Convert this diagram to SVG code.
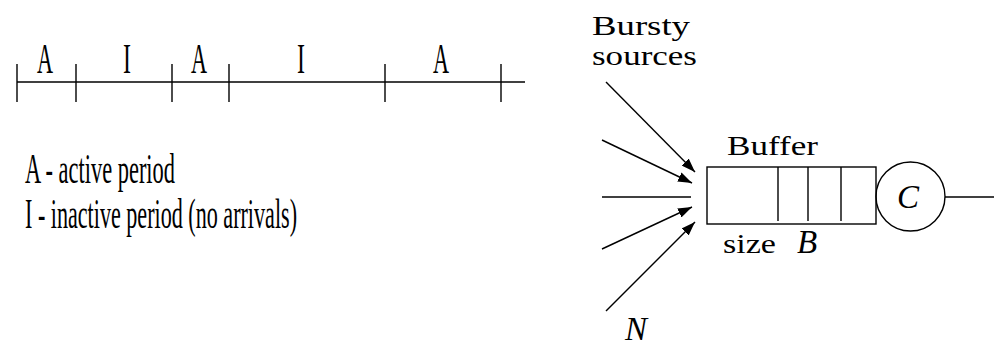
<svg xmlns="http://www.w3.org/2000/svg" width="994" height="347" viewBox="0 0 994 347">
<style>
.ln{stroke:#000;stroke-width:1.4;fill:none}
.tm{font-family:"Liberation Serif",serif;font-size:42px;fill:#000}
.cm{font-family:"Liberation Serif",serif;font-size:28px;fill:#000}
.it{font-family:"Liberation Serif",serif;font-style:italic;font-weight:normal;font-size:33px;fill:#000}
</style>
<defs>
<marker id="ah" viewBox="0 0 14 10" refX="14" refY="5" markerWidth="14" markerHeight="10" markerUnits="userSpaceOnUse" orient="auto">
<path d="M0,0 L14,5 L0,10 Z" fill="#000"/>
</marker>
</defs>
<g id="timeline">
<line class="ln" x1="17" y1="82" x2="525" y2="82"/>
<line class="ln" x1="17" y1="64" x2="17" y2="102"/>
<line class="ln" x1="76" y1="64" x2="76" y2="102"/>
<line class="ln" x1="172" y1="64" x2="172" y2="102"/>
<line class="ln" x1="229" y1="64" x2="229" y2="102"/>
<line class="ln" x1="385" y1="64" x2="385" y2="102"/>
<line class="ln" x1="501" y1="64" x2="501" y2="102"/>
<text class="tm" x="37" y="73" textLength="16" lengthAdjust="spacingAndGlyphs">A</text>
<text class="tm" x="123" y="73" textLength="8" lengthAdjust="spacingAndGlyphs">I</text>
<text class="tm" x="191" y="73" textLength="16" lengthAdjust="spacingAndGlyphs">A</text>
<text class="tm" x="297" y="73" textLength="8" lengthAdjust="spacingAndGlyphs">I</text>
<text class="tm" x="433" y="73" textLength="16" lengthAdjust="spacingAndGlyphs">A</text>
</g>
<g id="legend">
<text class="tm" x="25" y="183" textLength="150" lengthAdjust="spacingAndGlyphs">A - active period</text>
<text class="tm" x="25" y="228" textLength="272" lengthAdjust="spacingAndGlyphs">I - inactive period (no arrivals)</text>
</g>
<g id="sources-label">
<text class="cm" x="592" y="35" textLength="98" lengthAdjust="spacingAndGlyphs">Bursty</text>
<text class="cm" x="592" y="65" textLength="105" lengthAdjust="spacingAndGlyphs">sources</text>
</g>
<g id="connectors">
<line class="ln" x1="606" y1="82" x2="695" y2="172" marker-end="url(#ah)"/>
<line class="ln" x1="602" y1="140" x2="692" y2="183" marker-end="url(#ah)"/>
<line class="ln" x1="602" y1="197" x2="691" y2="197"/>
<line class="ln" x1="602" y1="249" x2="692" y2="207" marker-end="url(#ah)"/>
<line class="ln" x1="606" y1="311" x2="695" y2="222" marker-end="url(#ah)"/>
<line class="ln" x1="945" y1="197" x2="994" y2="197"/>
</g>
<g id="buffer">
<rect class="ln" x="707" y="167" width="169" height="57"/>
<line class="ln" x1="778" y1="167" x2="778" y2="221"/>
<line class="ln" x1="808" y1="167" x2="808" y2="221"/>
<line class="ln" x1="841" y1="167" x2="841" y2="221"/>
<text class="cm" x="727" y="155" textLength="91" lengthAdjust="spacingAndGlyphs">Buffer</text>
<text class="cm" x="723" y="253" textLength="53" lengthAdjust="spacingAndGlyphs">size</text>
<text class="it" x="797" y="253">B</text>
</g>
<g id="server">
<circle class="ln" cx="910.5" cy="196.5" r="34.5"/>
<text class="it" x="897" y="208">C</text>
</g>
<g id="n-label">
<text class="it" x="625" y="340">N</text>
</g>
</svg>
